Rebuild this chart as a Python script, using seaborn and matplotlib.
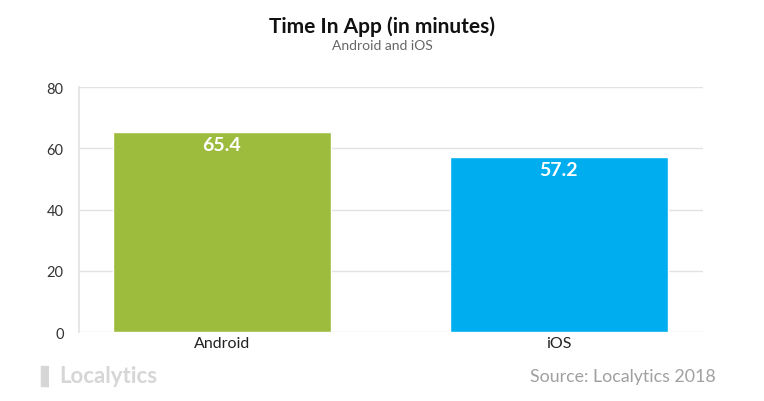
import matplotlib
matplotlib.use("Agg")
import matplotlib.pyplot as plt
import seaborn as sns
import pandas as pd

# data
platforms = ["Android", "iOS"]
minutes = [65.4, 57.2]
bar_colors = ["#9dbb3d", "#00aeef"]
y_ticks = [0, 20, 40, 60, 80]

sns.set_theme(style="white")
plt.rcParams['font.family'] = ['Lato', 'DejaVu Sans']

df = pd.DataFrame({"platform": platforms, "minutes": minutes})

fig = plt.figure(figsize=(7.64, 4.02), dpi=100)
ax = fig.add_axes([0.1034, 0.1716, 0.8166, 0.6094])

sns.barplot(data=df, x="platform", y="minutes", hue="platform",
            palette=bar_colors, width=0.647, saturation=1, legend=False, ax=ax)

ax.set_xlim(-0.424, 1.427)
ax.set_ylim(0, 80)
ax.set_yticks(y_ticks)
ax.yaxis.grid(True, color="#e2e2e2", linewidth=1)
ax.set_axisbelow(True)
for s in ["top", "right", "bottom"]:
    ax.spines[s].set_visible(False)
ax.spines["left"].set_color("#e2e2e2")
ax.spines["left"].set_linewidth(1.2)
ax.tick_params(axis="y", length=6, color="#e2e2e2", labelsize=10.5, labelcolor="#333333", pad=5)
ax.tick_params(axis="x", length=0, labelsize=11.5, labelcolor="#222222", pad=3)
ax.set_xlabel("")
ax.set_ylabel("")

for i, v in enumerate(minutes):
    ax.text(i, v - 1.3, f"{v}", ha="center", va="top", color="white",
            fontsize=14, fontweight="bold")

fig.text(0.5, 0.934, "Time In App (in minutes)", ha="center", va="center",
         fontsize=15, fontweight="bold", color="#111111")
fig.text(0.5, 0.885, "Android and iOS", ha="center", va="center",
         fontsize=10, color="#666666")
fig.text(0.937, 0.063, "Source: Localytics 2018", ha="right", va="center",
         fontsize=12.8, color="#a0a0a0")
fig.text(0.077, 0.063, "Localytics", ha="left", va="center",
         fontsize=16, fontweight="bold", color="#d6d6d6")
fig.text(0.053, 0.063, "\u258c", ha="left", va="center",
         fontsize=15, color="#d6d6d6")

fig.savefig("out.png", dpi=100)
